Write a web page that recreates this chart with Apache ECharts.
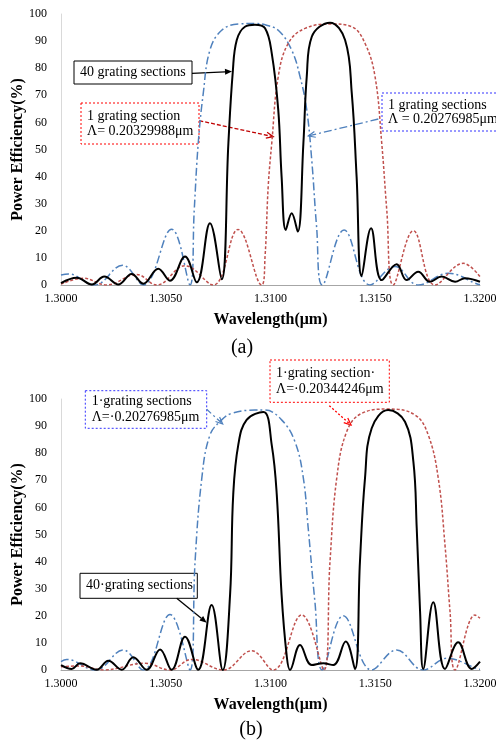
<!DOCTYPE html>
<html>
<head>
<meta charset="utf-8">
<script src="https://cdn.jsdelivr.net/npm/echarts@6/dist/echarts.min.js"></script>
<style>
html, body { margin: 0; padding: 0; background: #fff; }
#chart { width: 496px; height: 740px; }
</style>
</head>
<body>
<div id="chart"></div>
<script>
// (a) 40 sections
const wlA40 = [1.30000,1.30075,1.30147,1.30207,1.30273,1.30337,1.30393,1.30464,1.30520,1.30592,1.30648,1.30711,1.30767,1.30799,1.30820,1.30839,1.30878,1.30926,1.30974,1.31006,1.31037,1.31053,1.31073,1.31101,1.31130,1.31157,1.31173,1.31197,1.31284,1.31356,1.31388,1.31411,1.31435,1.31480,1.31531,1.31602,1.31650,1.31705,1.31761,1.31817,1.31881,1.31928,1.32000]
const peA40 = [0.7,2.7,0.2,3.1,0.2,4.1,0.5,6.0,1.6,10.5,1.0,22.8,2.1,52.3,78.7,90.4,95.3,96.0,94.7,85.5,64.6,40.0,20.3,26.5,19.7,52.3,76.9,91.6,96.8,90.4,70.7,40.0,3.3,20.9,1.8,7.7,1.8,4.9,1.2,3.1,1.2,2.5,1.2]
// (a) 1 section, Λ=0.20276985
const wlABlue = [1.30000,1.30035,1.30160,1.30294,1.30393,1.30528,1.30616,1.30636,1.30655,1.30679,1.30711,1.30767,1.30846,1.30926,1.30974,1.31037,1.31101,1.31141,1.31173,1.31197,1.31220,1.31247,1.31351,1.31475,1.31594,1.31705,1.31849,1.31990,1.32000]
const peABlue = [3.7,4.1,0,7.3,0,20.6,0,27.7,52.3,70.7,86.7,94.0,96.3,96.5,96.0,94.0,86.7,76.9,64.6,46.0,21.5,0,20.3,0,6.8,0,4.3,0.3,0.2]
// (a) 1 section, Λ=0.20329988
const wlARed = [1.30000,1.30106,1.30218,1.30361,1.30457,1.30592,1.30727,1.30845,1.30958,1.30974,1.30989,1.31006,1.31037,1.31085,1.31165,1.31292,1.31388,1.31451,1.31499,1.31531,1.31555,1.31586,1.31682,1.31785,1.31920,1.32000]
const peARed = [0.3,2.5,0,3.9,0,7.1,0,20.5,0,10.5,36.3,52.3,76.9,89.2,94.7,96.3,95.3,89.2,76.9,52.3,27.7,0,20.0,0,8.0,3.1]

// (b) 40 sections
const wlB40 = [1.30000,1.30051,1.30091,1.30170,1.30226,1.30290,1.30345,1.30409,1.30473,1.30528,1.30592,1.30655,1.30719,1.30772,1.30807,1.30822,1.30846,1.30886,1.30966,1.31006,1.31030,1.31053,1.31077,1.31093,1.31141,1.31197,1.31252,1.31300,1.31359,1.31403,1.31427,1.31451,1.31483,1.31562,1.31642,1.31682,1.31698,1.31714,1.31729,1.31777,1.31833,1.31896,1.31960,1.32000]
const peB40 = [1.8,0.4,2.5,0.1,3.4,0.1,4.7,0.1,7.6,0.1,12.3,0.1,24.0,0,27.7,64.6,83.0,92.3,95.2,83.0,64.6,27.7,5.5,0,9.2,1.8,2.5,1.8,10.5,0.4,40.0,70.7,89.2,95.9,91.6,76.9,52.3,21.5,0.4,25.0,0.4,10.2,0.4,3.1]
// (b) 1 section, Λ=0.20276985
const wlBBlue = [1.30000,1.30027,1.30165,1.30297,1.30393,1.30520,1.30616,1.30640,1.30672,1.30711,1.30767,1.30815,1.30926,1.30974,1.31053,1.31117,1.31157,1.31180,1.31212,1.31247,1.31347,1.31483,1.31602,1.31729,1.31841,1.31990,1.32000]
const peBBlue = [3.1,3.9,0,7.4,0,20.5,0,40.0,70.7,86.7,92.3,94.7,95.9,95.9,92.3,84.2,70.7,52.3,25.2,0,20.0,0,7.4,0,4.3,0.4,0.3]
// (b) 1 section, Λ=0.20344246
const wlBRed = [1.30000,1.30091,1.30202,1.30401,1.30520,1.30624,1.30775,1.30910,1.31013,1.31149,1.31255,1.31284,1.31316,1.31364,1.31435,1.31562,1.31690,1.31753,1.31801,1.31833,1.31857,1.31881,1.31976,1.32000]
const peBRed = [1.2,1.5,0,2.5,0,3.9,0,7.1,0,20.3,0,40.0,70.7,88.0,94.7,96.3,94.1,86.7,70.7,46.0,21.5,0,20.3,19.1]

const xTicks = [1.300, 1.305, 1.310, 1.315, 1.320]

const FONT = '"Liberation Serif", "Times New Roman", serif'
const BLUE = '#4f81bd'
const RED = '#c0504d'

const zip = (xs, ys) => xs.map((x, i) => [x, ys[i]])

function xAxisOf (gi) {
  return {
    gridIndex: gi,
    type: 'value',
    min: xTicks[0],
    max: xTicks[xTicks.length - 1],
    interval: 0.005,
    name: 'Wavelength(μm)',
    nameLocation: 'middle',
    nameGap: 27,
    nameMoveOverlap: false,
    nameTextStyle: { fontFamily: FONT, fontSize: 16, fontWeight: 'bold', color: '#000' },
    axisLine: { show: true, lineStyle: { color: '#a6a6a6', width: 1 } },
    axisTick: { show: false },
    splitLine: { show: false },
    axisLabel: {
      fontFamily: FONT, fontSize: 12, color: '#000', margin: 8,
      formatter: v => v.toFixed(4)
    }
  }
}

function yAxisOf (gi) {
  return {
    gridIndex: gi,
    type: 'value',
    min: 0,
    max: 100,
    interval: 10,
    name: 'Power Efficiency(%)',
    nameLocation: 'middle',
    nameGap: 35,
    nameMoveOverlap: false,
    nameTextStyle: { fontFamily: FONT, fontSize: 16, fontWeight: 'bold', color: '#000' },
    axisLine: { show: true, lineStyle: { color: '#d9d9d9', width: 1 } },
    axisTick: { show: false },
    splitLine: { show: false },
    axisLabel: { fontFamily: FONT, fontSize: 12, color: '#000', margin: 14 }
  }
}

function line (gi, data, color, width, dash) {
  return {
    type: 'line',
    xAxisIndex: gi,
    yAxisIndex: gi,
    data: data,
    smooth: 0.4,
    symbol: 'none',
    silent: true,
    lineStyle: { color: color, width: width, type: dash }
  }
}

// annotation helpers
function box (x, y, w, h, stroke, dash, lines, tx, lh) {
  const els = [{
    type: 'rect',
    shape: { x: x, y: y, width: w, height: h },
    style: { fill: '#fff', stroke: stroke, lineWidth: 1, lineDash: dash }
  }]
  lines.forEach((t, i) => {
    els.push({
      type: 'text',
      x: tx,
      y: y + h / 2 + (i - (lines.length - 1) / 2) * lh,
      style: { text: t, font: '14px ' + FONT, fill: '#000', textVerticalAlign: 'middle' }
    })
  })
  return els
}

function arrow (x1, y1, x2, y2, color, dash, filled) {
  const a = Math.atan2(y2 - y1, x2 - x1)
  const L = 7, W = 3
  const bx = x2 - L * Math.cos(a), by = y2 - L * Math.sin(a)
  const p1 = [bx + W * Math.sin(a), by - W * Math.cos(a)]
  const p2 = [bx - W * Math.sin(a), by + W * Math.cos(a)]
  const els = [{
    type: 'line',
    shape: { x1: x1, y1: y1, x2: filled ? bx : x2, y2: filled ? by : y2 },
    style: { stroke: color, lineWidth: 1.3, lineDash: dash }
  }]
  if (filled) {
    els.push({ type: 'polygon', shape: { points: [[x2, y2], p1, p2] }, style: { fill: color } })
  } else {
    els.push({ type: 'polyline', shape: { points: [p1, [x2, y2], p2] }, style: { stroke: color, lineWidth: 1.2, fill: null } })
  }
  return els
}

const graphics = [].concat(
  box(74, 61, 118, 23, '#000', null, ['40 grating sections'], 80, 15),
  arrow(192, 73.3, 232, 71.5, '#000', null, true),
  box(81, 103, 118, 41, '#ff0000', [2, 2], ['1 grating section', 'Λ= 0.20329988μm'], 87, 15),
  arrow(199.3, 120.7, 273.3, 136.7, '#c00000', [4, 2], false),
  box(382, 93, 130, 38, '#3333ff', [2, 2], ['1 grating sections', 'Λ = 0.20276985μm'], 388, 14),
  arrow(378.3, 119, 308.3, 136, BLUE, [8, 3, 2, 3], false),
  box(85.3, 390.7, 121.4, 37.6, '#3333ff', [2, 2], ['1·grating sections', 'Λ=·0.20276985μm'], 91.7, 16),
  arrow(206.7, 409.3, 222.7, 424, BLUE, [6, 3, 2, 3], false),
  box(270, 360, 119.3, 42.3, '#ff0000', [2, 2], ['1·grating section·', 'Λ=·0.20344246μm'], 276, 16),
  arrow(329.3, 405.7, 351, 425, '#ff0000', [2, 2], false),
  box(80, 573.3, 117.3, 25, '#000', null, ['40·grating sections'], 86, 15),
  arrow(176.7, 598.3, 206.7, 622.7, '#000', null, true),
  [
    { type: 'text', x: 242, y: 348, style: { text: '(a)', font: '20px ' + FONT, fill: '#000', textAlign: 'center', textVerticalAlign: 'middle' } },
    { type: 'text', x: 251, y: 730, style: { text: '(b)', font: '20px ' + FONT, fill: '#000', textAlign: 'center', textVerticalAlign: 'middle' } }
  ]
)

const myChart = echarts.init(document.getElementById('chart'), null, { renderer: 'canvas' })
const option = {
  backgroundColor: '#fff',
  animation: false,
  grid: [
    { left: 61, right: 16, top: 14, height: 271, outerBoundsMode: 'none' },
    { left: 61, right: 16, top: 399, height: 271, outerBoundsMode: 'none' }
  ],
  xAxis: [xAxisOf(0), xAxisOf(1)],
  yAxis: [yAxisOf(0), yAxisOf(1)],
  series: [
    line(0, zip(wlABlue, peABlue), BLUE, 1.5, [8, 3, 2, 3]),
    line(0, zip(wlARed, peARed), RED, 1.5, [3, 2]),
    line(0, zip(wlA40, peA40), '#000', 2),
    line(1, zip(wlBBlue, peBBlue), BLUE, 1.5, [8, 3, 2, 3]),
    line(1, zip(wlBRed, peBRed), RED, 1.5, [3, 2]),
    line(1, zip(wlB40, peB40), '#000', 2)
  ],
  graphic: graphics
}
myChart.setOption(option)
</script>
</body>
</html>
